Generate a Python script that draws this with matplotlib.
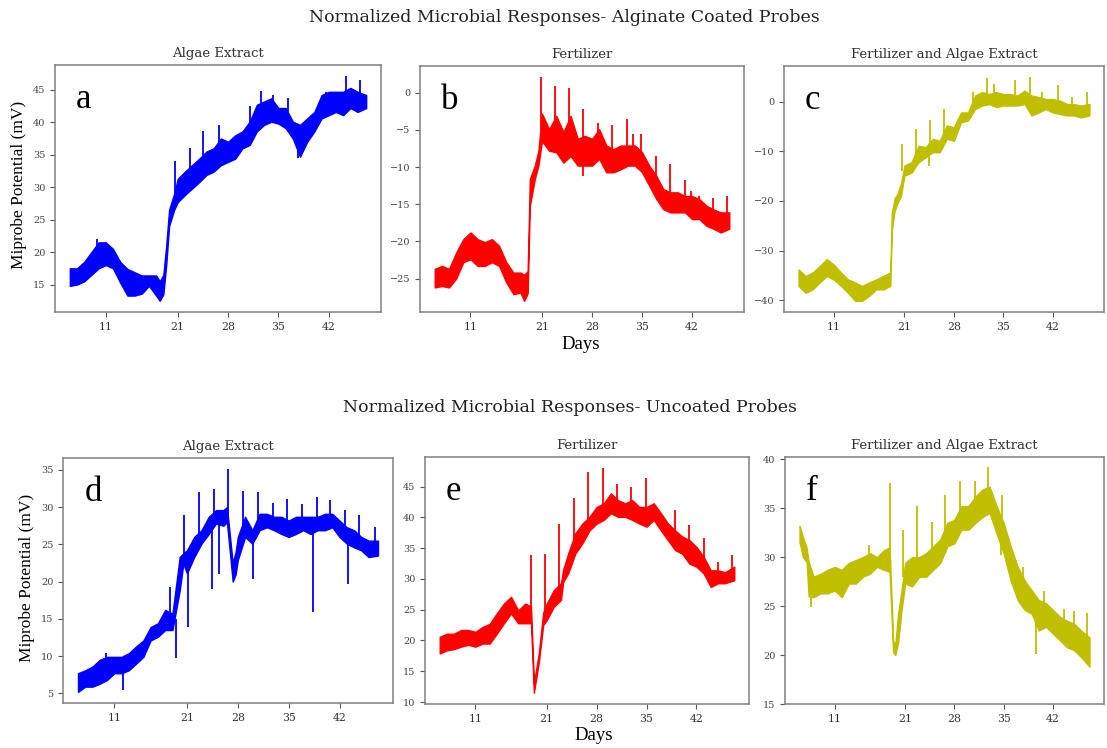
import numpy as np
import matplotlib
matplotlib.use("Agg")
import matplotlib.pyplot as plt

# ---- datos (dias, banda inferior/superior, picos) ----
TICKS = [11, 21, 28, 35, 42]

# a) Alginate - Algae Extract
a_days = [6, 7, 8, 9, 10, 11, 12, 13, 14, 15, 16, 17, 18, 18.5, 19, 19.4, 19.8, 20.5, 21, 22, 23, 24, 25, 26, 27,
          28, 29, 30, 31, 32, 33, 34, 35, 36, 37, 38, 39, 40, 41, 42, 43, 44, 45, 46, 47.2]
a_lo = [14.8, 15.0, 15.5, 16.5, 17.5, 18.0, 17.5, 15.3, 13.3, 13.3, 13.6, 14.8, 13.3, 12.5, 13.5, 18.0, 24.0, 26.5,
        27.7, 28.8, 29.8, 30.8, 31.9, 32.4, 33.4, 33.9, 34.4, 36.0, 36.5, 38.6, 39.6, 40.1, 39.8, 39.1, 37.5, 34.7,
        37.0, 38.6, 40.6, 41.1, 41.6, 41.1, 42.2, 41.6, 42.2]
a_hi = [17.5, 17.5, 18.5, 20.0, 21.5, 21.5, 20.5, 18.5, 17.4, 16.9, 16.4, 16.4, 16.4, 15.5, 16.5, 21.0, 26.5, 29.0,
        31.3, 32.4, 33.4, 34.4, 35.5, 36.0, 37.5, 37.0, 38.0, 38.6, 40.1, 42.7, 43.2, 43.7, 42.2, 42.2, 40.1, 39.6,
        40.6, 41.6, 44.2, 44.7, 44.7, 44.7, 45.3, 44.7, 44.2]
a_spk_days = [9.8, 20.6, 22.7, 24.5, 26.7, 31.1, 32.6, 34.2, 36.3, 37.7, 41.6, 44.4, 46.4]
a_spk_base = [20.0, 28.0, 31.0, 32.5, 35.0, 39.0, 41.0, 42.0, 41.0, 37.0, 42.5, 43.0, 43.0]
a_spk_vals = [22.0, 34.0, 36.0, 38.6, 39.6, 42.5, 44.8, 44.2, 43.7, 34.5, 44.7, 47.1, 46.5]

# b) Alginate - Fertilizer
b_days = [6, 7, 8, 9, 10, 11, 12, 13, 14, 15, 16, 17, 18, 18.5, 19, 19.3, 20, 20.5, 21, 22, 23, 24, 25, 26, 27,
          28, 29, 30, 31, 32, 33, 34, 35, 36, 37, 38, 39, 40, 41, 42, 43, 44, 45, 46, 47.2]
b_lo = [-26.2, -26.0, -26.2, -25.0, -22.8, -22.4, -23.3, -23.3, -22.8, -23.3, -25.5, -27.1, -26.9, -28.0, -27.0,
        -15.2, -11.6, -9.8, -6.5, -7.8, -8.0, -9.4, -8.5, -9.8, -9.8, -9.8, -8.9, -10.7, -10.7, -10.3, -9.8, -9.8,
        -10.7, -12.5, -14.3, -15.7, -16.1, -16.1, -16.1, -17.0, -17.0, -17.9, -18.3, -18.8, -18.3]
b_hi = [-23.7, -23.3, -23.7, -21.5, -19.7, -18.8, -19.7, -20.1, -19.7, -20.6, -22.8, -24.2, -24.2, -24.5, -24.0,
        -11.6, -9.8, -7.8, -2.8, -4.9, -3.1, -5.3, -3.1, -6.2, -5.8, -6.2, -4.9, -7.1, -7.6, -7.1, -7.1, -7.1,
        -8.0, -9.8, -11.2, -13.0, -13.4, -13.4, -13.9, -13.9, -14.3, -15.2, -15.7, -16.1, -16.1]
b_spk_days = [20.8, 22.8, 24.75, 26.7, 26.75, 28.8, 30.8, 32.85, 33.8, 34.8, 36.9, 38.9, 41.0, 41.8, 42.9, 44.9, 46.9]
b_spk_base = [-5.0, -6.0, -7.0, -8.0, -8.0, -7.0, -9.0, -8.5, -8.5, -9.0, -12.5, -14.5, -15.0, -15.5, -15.5, -17.0,
              -17.0]
b_spk_vals = [2.1, 0.9, 0.7, -2.2, -11.2, -4.0, -4.4, -3.5, -5.6, -5.6, -8.5, -9.6, -11.8, -13.2, -13.9, -14.1, -13.9]

# c) Alginate - Fertilizer and Algae Extract
c_days = [6, 7, 8, 9, 10, 11, 12, 13, 14, 15, 16, 17, 18, 19, 19.2, 19.6, 20, 20.5, 21, 22, 23, 24, 25, 26, 27,
          28, 29, 30, 31, 32, 33, 34, 35, 36, 37, 38, 39, 40, 41, 42, 43, 44, 45, 46, 47.2]
c_lo = [-37.1, -38.5, -37.8, -36.4, -35.1, -35.8, -37.1, -38.5, -40.1, -40.1, -39.1, -37.8, -37.8, -37.1, -26.0,
        -22.0, -20.5, -19.0, -14.9, -14.3, -12.2, -11.2, -10.2, -10.2, -7.5, -7.9, -4.2, -3.8, -1.5, -0.8, -0.5,
        -1.1, -0.8, -0.8, -0.8, -0.5, -2.8, -2.2, -1.5, -2.2, -2.5, -2.8, -2.8, -3.2, -2.8]
c_hi = [-33.8, -35.1, -34.4, -33.1, -31.7, -32.8, -34.4, -35.8, -36.4, -37.1, -36.4, -35.8, -35.1, -34.4, -22.5,
        -19.5, -18.6, -16.5, -12.9, -12.2, -8.9, -9.2, -7.5, -7.9, -4.8, -5.2, -2.2, -2.2, 1.2, 1.9, 1.5, 1.9,
        1.5, 1.5, 1.2, 2.2, 1.2, 0.9, 0.5, 0.5, 0.2, -0.5, -0.5, -0.8, -0.5]
c_spk_days = [20.7, 22.7, 24.5, 24.65, 26.6, 30.7, 32.7, 33.7, 36.7, 38.8, 40.5, 42.7, 44.7, 46.9]
c_spk_base = [-14.0, -12.0, -10.0, -9.0, -7.0, -1.0, 0.5, 0.5, 0.2, 0.0, -0.5, -1.0, -1.5, -1.5]
c_spk_vals = [-8.5, -5.5, -12.9, -3.8, -1.5, 1.9, 4.7, 3.6, 4.4, 4.9, 2.0, 3.4, 0.9, 2.0]

# d) Uncoated - Algae Extract
d_days = [6, 7, 8, 9, 10, 11, 12, 13, 14, 15, 16, 17, 18, 19, 20, 20.5, 21, 22, 23, 24, 25, 26, 26.5, 27.3, 27.7,
          28, 29, 30, 31, 32, 33, 34, 35, 36, 37, 38, 39, 40, 41, 42, 43, 44, 45, 46, 47.3]
d_lo = [5.2, 5.9, 5.9, 6.3, 6.8, 7.7, 7.7, 8.1, 9.0, 9.9, 12.1, 12.6, 13.5, 13.5, 18.8, 22.4, 21.1, 23.3, 25.1,
        26.4, 27.8, 27.5, 28.0, 20.0, 21.0, 22.9, 26.0, 25.1, 26.9, 27.3, 26.9, 26.4, 26.0, 26.4, 26.9, 26.4, 26.9,
        26.9, 27.3, 26.0, 25.1, 24.6, 24.2, 23.3, 23.5]
d_hi = [7.7, 8.1, 8.6, 9.5, 9.9, 9.9, 9.9, 10.4, 11.3, 12.1, 13.9, 14.4, 16.2, 15.7, 23.3, 23.8, 24.2, 26.0, 26.9,
        28.7, 29.6, 29.6, 30.0, 22.5, 24.0, 26.0, 28.7, 26.9, 29.1, 29.1, 28.7, 28.7, 28.2, 28.7, 28.7, 28.7, 28.7,
        29.1, 29.1, 28.2, 27.3, 26.9, 26.0, 25.5, 25.5]
d_spk_days = [9.86, 12.2, 18.7, 19.46, 20.65, 21.15, 22.66, 24.5, 24.76, 25.45, 26.64, 28.74, 30.07, 30.84, 32.8,
              34.8, 36.8, 38.3, 38.9, 40.7, 42.8, 43.2, 44.75, 46.9]
d_spk_base = [8.5, 8.8, 14.5, 15.0, 23.0, 22.5, 25.5, 27.5, 28.0, 28.5, 29.0, 27.0, 26.0, 28.0, 28.0, 27.0, 28.0,
              27.5, 28.0, 28.0, 27.0, 26.5, 25.0, 24.5]
d_spk_vals = [10.4, 5.4, 19.3, 9.7, 28.9, 13.9, 32.0, 19.0, 32.5, 21.0, 35.1, 32.2, 20.4, 32.0, 30.5, 31.1, 30.4,
              15.9, 31.3, 30.9, 29.6, 19.7, 28.9, 27.3]

# e) Uncoated - Fertilizer
e_days = [6, 7, 8, 9, 10, 11, 12, 13, 14, 15, 16, 17, 18, 18.8, 19.2, 19.9, 20.5, 21, 22, 23, 23.3, 24, 25, 26,
          27, 28, 29, 30, 31, 32, 33, 34, 35, 36, 37, 38, 39, 40, 41, 42, 43, 44, 45, 46, 47.3]
e_lo = [17.9, 18.4, 18.6, 19.0, 19.3, 19.0, 19.5, 19.5, 21.1, 22.8, 24.4, 22.8, 22.8, 22.8, 11.5, 16.5, 22.5, 23.3,
        25.5, 26.6, 29.5, 30.9, 34.1, 35.8, 37.9, 39.0, 39.6, 40.7, 40.1, 40.1, 39.6, 39.0, 38.5, 39.6, 37.9, 36.3,
        34.7, 34.1, 32.5, 32.0, 30.9, 28.7, 29.3, 29.3, 29.8]
e_hi = [20.6, 21.1, 21.1, 21.7, 21.7, 21.4, 22.2, 22.7, 24.4, 26.0, 27.1, 24.9, 26.0, 25.5, 13.0, 18.0, 24.5, 26.0,
        28.2, 29.3, 31.5, 34.1, 37.4, 39.0, 40.1, 41.7, 42.3, 43.9, 42.8, 42.3, 42.8, 41.7, 41.7, 42.3, 40.7, 39.0,
        37.9, 36.9, 36.3, 35.2, 33.6, 31.4, 31.4, 31.1, 32.0]
e_spk_days = [18.86, 20.83, 22.75, 24.85, 26.73, 28.88, 30.9, 32.86, 34.87, 39.03, 40.95, 43.0, 44.97, 47.03]
e_spk_base = [24.0, 24.5, 28.0, 35.5, 39.0, 41.0, 41.5, 41.0, 40.0, 36.0, 34.5, 32.0, 30.5, 31.0]
e_spk_vals = [33.9, 34.1, 39.0, 43.1, 47.4, 48.0, 45.5, 45.0, 46.4, 41.2, 38.8, 36.6, 32.8, 33.9]

# f) Uncoated - Fertilizer and Algae Extract
f_days = [6, 6.5, 7, 7.3, 8, 9, 10, 11, 12, 13, 14, 15, 16, 17, 18, 18.8, 19.3, 19.6, 20, 20.5, 21, 22, 23, 24, 25,
          26, 27, 28, 29, 30, 31, 32, 33, 34, 35, 36, 37, 38, 39, 40, 41, 42, 43, 44, 45, 46, 47.2]
f_lo = [31.5, 30.0, 29.5, 26.0, 25.9, 26.3, 26.3, 26.6, 25.9, 27.3, 27.3, 28.0, 28.3, 29.0, 28.7, 28.5, 20.3, 20.0,
        21.2, 24.6, 27.3, 27.0, 28.0, 28.0, 28.7, 29.4, 31.1, 31.4, 32.8, 32.8, 33.5, 34.1, 34.5, 32.4, 30.4, 27.6,
        25.6, 24.6, 24.2, 22.5, 22.9, 22.2, 21.5, 20.8, 20.5, 19.8, 18.8]
f_hi = [33.2, 32.0, 31.0, 29.5, 28.0, 28.3, 28.7, 29.0, 28.7, 29.4, 29.7, 30.0, 30.4, 30.0, 30.7, 31.0, 21.5, 21.0,
        24.2, 26.6, 29.4, 30.0, 30.0, 30.4, 31.1, 31.8, 33.5, 33.8, 35.2, 35.2, 36.2, 36.9, 37.2, 35.2, 33.5, 31.1,
        29.0, 27.6, 26.6, 25.6, 25.3, 24.6, 23.9, 23.5, 23.2, 22.5, 21.8]
f_spk_days = [7.6, 15.86, 18.86, 20.77, 22.68, 24.86, 26.64, 28.82, 30.95, 32.77, 34.6, 34.77, 37.7, 39.55, 40.7,
              43.6, 44.95, 46.8]
f_spk_base = [27.0, 29.5, 30.0, 28.0, 29.0, 30.0, 32.0, 34.0, 35.0, 36.0, 32.0, 32.0, 26.0, 24.5, 24.0, 22.5, 22.0,
              20.5]
f_spk_vals = [24.9, 31.2, 37.6, 32.8, 35.2, 33.6, 36.3, 37.8, 37.8, 39.2, 30.2, 36.3, 29.0, 20.1, 26.5, 24.7, 24.5,
              24.3]

W, H = 1107, 748
plt.rcParams['font.family'] = 'DejaVu Serif'
fig = plt.figure(figsize=(W / 100, H / 100), dpi=100)


def px_box(l, t, r, b):
    return [l / W, 1 - b / H, (r - l) / W, (b - t) / H]


def panel(box, days, lo, hi, sd, sb, sv, color, title, letter, ybottom=None):
    ax = fig.add_axes(px_box(*box))
    # banda ruidosa + picos verticales
    ax.fill_between(days, lo, hi, color=color, lw=1.0, edgecolor=color)
    ax.vlines(sd, sb, sv, color=color, lw=1.3)
    ax.set_xticks(TICKS)
    ax.set_title(title, fontsize=9.5, color='#333333', pad=6)
    ax.tick_params(axis='x', labelsize=7.8, colors='#555555', labelcolor='#333333')
    ax.tick_params(axis='y', labelsize=7, colors='#555555', labelcolor='#444444')
    for s in ax.spines.values():
        s.set_color('#808080')
        s.set_linewidth(1.1)
    if ybottom is not None:
        ax.set_ylim(bottom=ybottom)
    ax.text(0.065, 0.825, letter, transform=ax.transAxes, fontsize=25,
            family='Liberation Serif', ha='left', va='baseline')
    return ax


panel((55, 65, 381, 312), a_days, a_lo, a_hi, a_spk_days, a_spk_base, a_spk_vals, 'blue', 'Algae Extract', 'a')
panel((420, 66, 744, 312), b_days, b_lo, b_hi, b_spk_days, b_spk_base, b_spk_vals, 'red', 'Fertilizer', 'b')
panel((784, 66, 1104, 312), c_days, c_lo, c_hi, c_spk_days, c_spk_base, c_spk_vals, 'y',
      'Fertilizer and Algae Extract', 'c')
panel((63, 458, 393, 703), d_days, d_lo, d_hi, d_spk_days, d_spk_base, d_spk_vals, 'blue', 'Algae Extract', 'd')
panel((425, 457, 749, 704), e_days, e_lo, e_hi, e_spk_days, e_spk_base, e_spk_vals, 'red', 'Fertilizer', 'e')
panel((785, 457, 1104, 704), f_days, f_lo, f_hi, f_spk_days, f_spk_base, f_spk_vals, 'y',
      'Fertilizer and Algae Extract', 'f', ybottom=15)

fig.text(564 / W, 1 - 17 / H, 'Normalized Microbial Responses- Alginate Coated Probes',
         ha='center', va='center', fontsize=12.5, color='#222222')
fig.text(570 / W, 1 - 408 / H, 'Normalized Microbial Responses- Uncoated Probes',
         ha='center', va='center', fontsize=12.5, color='#222222')

lab = dict(family='Liberation Serif', fontsize=12.5, ha='center', va='center')
fig.text(19 / W, 1 - 185 / H, 'Miprobe Potential (mV)', rotation=90, **lab)
fig.text(27 / W, 1 - 578 / H, 'Miprobe Potential (mV)', rotation=90, **lab)
fig.text(581 / W, 1 - 345 / H, 'Days', **dict(lab, fontsize=13.5))
fig.text(594 / W, 1 - 735 / H, 'Days', **dict(lab, fontsize=13.5))

fig.savefig('out.png', dpi=100)
